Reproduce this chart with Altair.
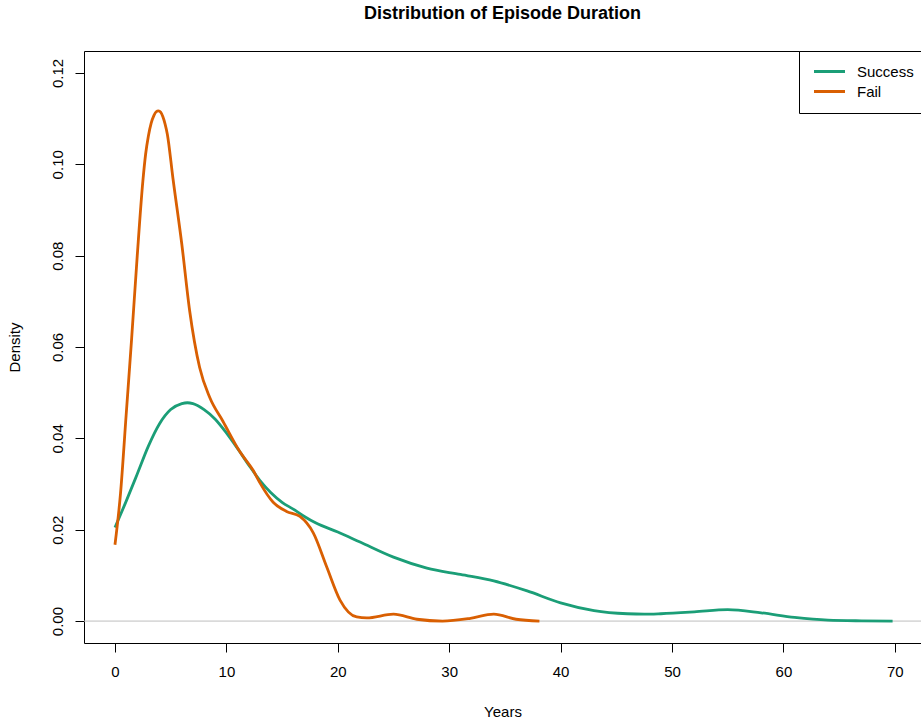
import altair as alt
import pandas as pd

# Kernel density estimates of episode duration (years) by outcome
success_years = [0, 1, 2, 3, 4, 5, 6, 6.5, 7, 8, 9, 10, 11, 12, 13, 14, 15, 16, 17, 18,
                 20, 22, 25, 28, 31, 34, 37, 40, 43, 46, 47.5, 49, 52, 55, 58, 61, 64, 67,
                 69.8]
success_density = [0.0205, 0.0262, 0.0322, 0.0383, 0.0432, 0.0463, 0.0476, 0.0478, 0.0476,
                   0.0463, 0.0442, 0.0412, 0.0378, 0.0342, 0.0308, 0.0281, 0.0260, 0.0245,
                   0.0229, 0.0215, 0.0195, 0.0173, 0.0140, 0.0116, 0.0102, 0.0088, 0.0066,
                   0.0040, 0.0023, 0.0016, 0.0015, 0.0016, 0.0020, 0.0025, 0.0018, 0.0008,
                   0.0002, 0.00005, 0.0]

fail_years = [0, 0.5, 1, 1.5, 2, 2.5, 2.75, 3, 3.25, 3.5, 3.7, 3.9, 4.1, 4.3, 4.5, 4.7,
              5.2, 6, 6.7, 7.6, 8.5, 9.7, 11.2, 12.4, 13, 14.2, 15.4, 16.6, 17.8, 19, 20.2,
              21.7, 22.6, 25, 27.1, 29.4, 31.9, 34, 36, 38.1]
fail_density = [0.0167, 0.028, 0.045, 0.062, 0.080, 0.0962, 0.1022, 0.1062, 0.1090, 0.1107,
                0.1115, 0.1117, 0.1114, 0.1104, 0.1088, 0.1066, 0.097, 0.0825, 0.068,
                0.0555, 0.049, 0.0437, 0.0371, 0.033, 0.0303, 0.026, 0.024, 0.0229, 0.0193,
                0.0119, 0.0046, 0.0009, 0.0007, 0.0015, 0.0004, 0.0, 0.0006, 0.0015,
                0.0004, 0.0]

groups = ["Success", "Fail"]
group_colors = ["#1B9E77", "#D95F02"]
x_ticks = [0, 10, 20, 30, 40, 50, 60, 70]
y_ticks = [0.0, 0.02, 0.04, 0.06, 0.08, 0.10, 0.12]

FONT = "Liberation Sans"

df = pd.concat([
    pd.DataFrame({"years": success_years, "density": success_density, "group": "Success"}),
    pd.DataFrame({"years": fail_years, "density": fail_density, "group": "Fail"}),
], ignore_index=True)

x_scale = alt.Scale(domain=[-2.78, 72.35], nice=False, zero=False)
y_scale = alt.Scale(domain=[-0.0048, 0.1248], nice=False, zero=False)

zero_line = alt.Chart(pd.DataFrame({"density": [0.0]})).mark_rule(
    color="#BEBEBE", strokeWidth=1
).encode(y=alt.Y("density:Q", scale=y_scale))

# Legend key: a wide horizontal stroke drawn from a custom unit path
legend_key = "M-3.1,0H3.1"

curves = alt.Chart(df).mark_line(strokeWidth=2.8, interpolate="monotone").encode(
    x=alt.X("years:Q", scale=x_scale,
            axis=alt.Axis(orient="bottom", values=x_ticks, title="Years", grid=False,
                          tickSize=9, labelPadding=12, titlePadding=25)),
    y=alt.Y("density:Q", scale=y_scale,
            axis=alt.Axis(values=y_ticks, format=".2f", title="Density", grid=False,
                          labelAngle=-90, labelAlign="center", labelBaseline="bottom",
                          tickSize=9, labelPadding=10, titlePadding=28)),
    color=alt.Color("group:N", scale=alt.Scale(domain=groups, range=group_colors),
                    legend=alt.Legend(orient="none", legendX=715, legendY=0, title=None,
                                      strokeColor="black", fillColor="white", padding=13,
                                      symbolType=legend_key, symbolSize=100,
                                      symbolOffset=10, symbolStrokeWidth=3,
                                      labelFontSize=15, labelFont=FONT, labelColor="black",
                                      labelOffset=20, rowPadding=4, cornerRadius=0)),
    order=alt.Order("years:Q"),
)

# Invisible layer that carries the top frame line
frame_top = alt.Chart(df).mark_line(opacity=0).encode(
    x=alt.X("years:Q", scale=x_scale,
            axis=alt.Axis(orient="top", labels=False, ticks=False, title=None,
                          grid=False, domainColor="black")),
    y=alt.Y("density:Q", scale=y_scale),
    detail="group:N",
)

chart = alt.layer(zero_line, curves, frame_top).resolve_axis(x="independent").properties(
    width=837,
    height=592,
    background="white",
    padding={"left": 84, "top": 51, "right": 0, "bottom": 79},
    autosize=alt.AutoSizeParams(type="none"),
    title=alt.Title("Distribution of Episode Duration", fontSize=18, fontWeight="bold",
                    font=FONT, color="black", anchor="middle", offset=28),
).configure_view(stroke=None).configure_axis(
    labelFont=FONT, labelFontSize=15, labelColor="black",
    titleFont=FONT, titleFontSize=15, titleFontWeight="normal", titleColor="black",
    domainColor="black", tickColor="black", domainWidth=1, tickWidth=1,
)

chart.save("out.html", embed_options={"renderer": "svg", "actions": False})
